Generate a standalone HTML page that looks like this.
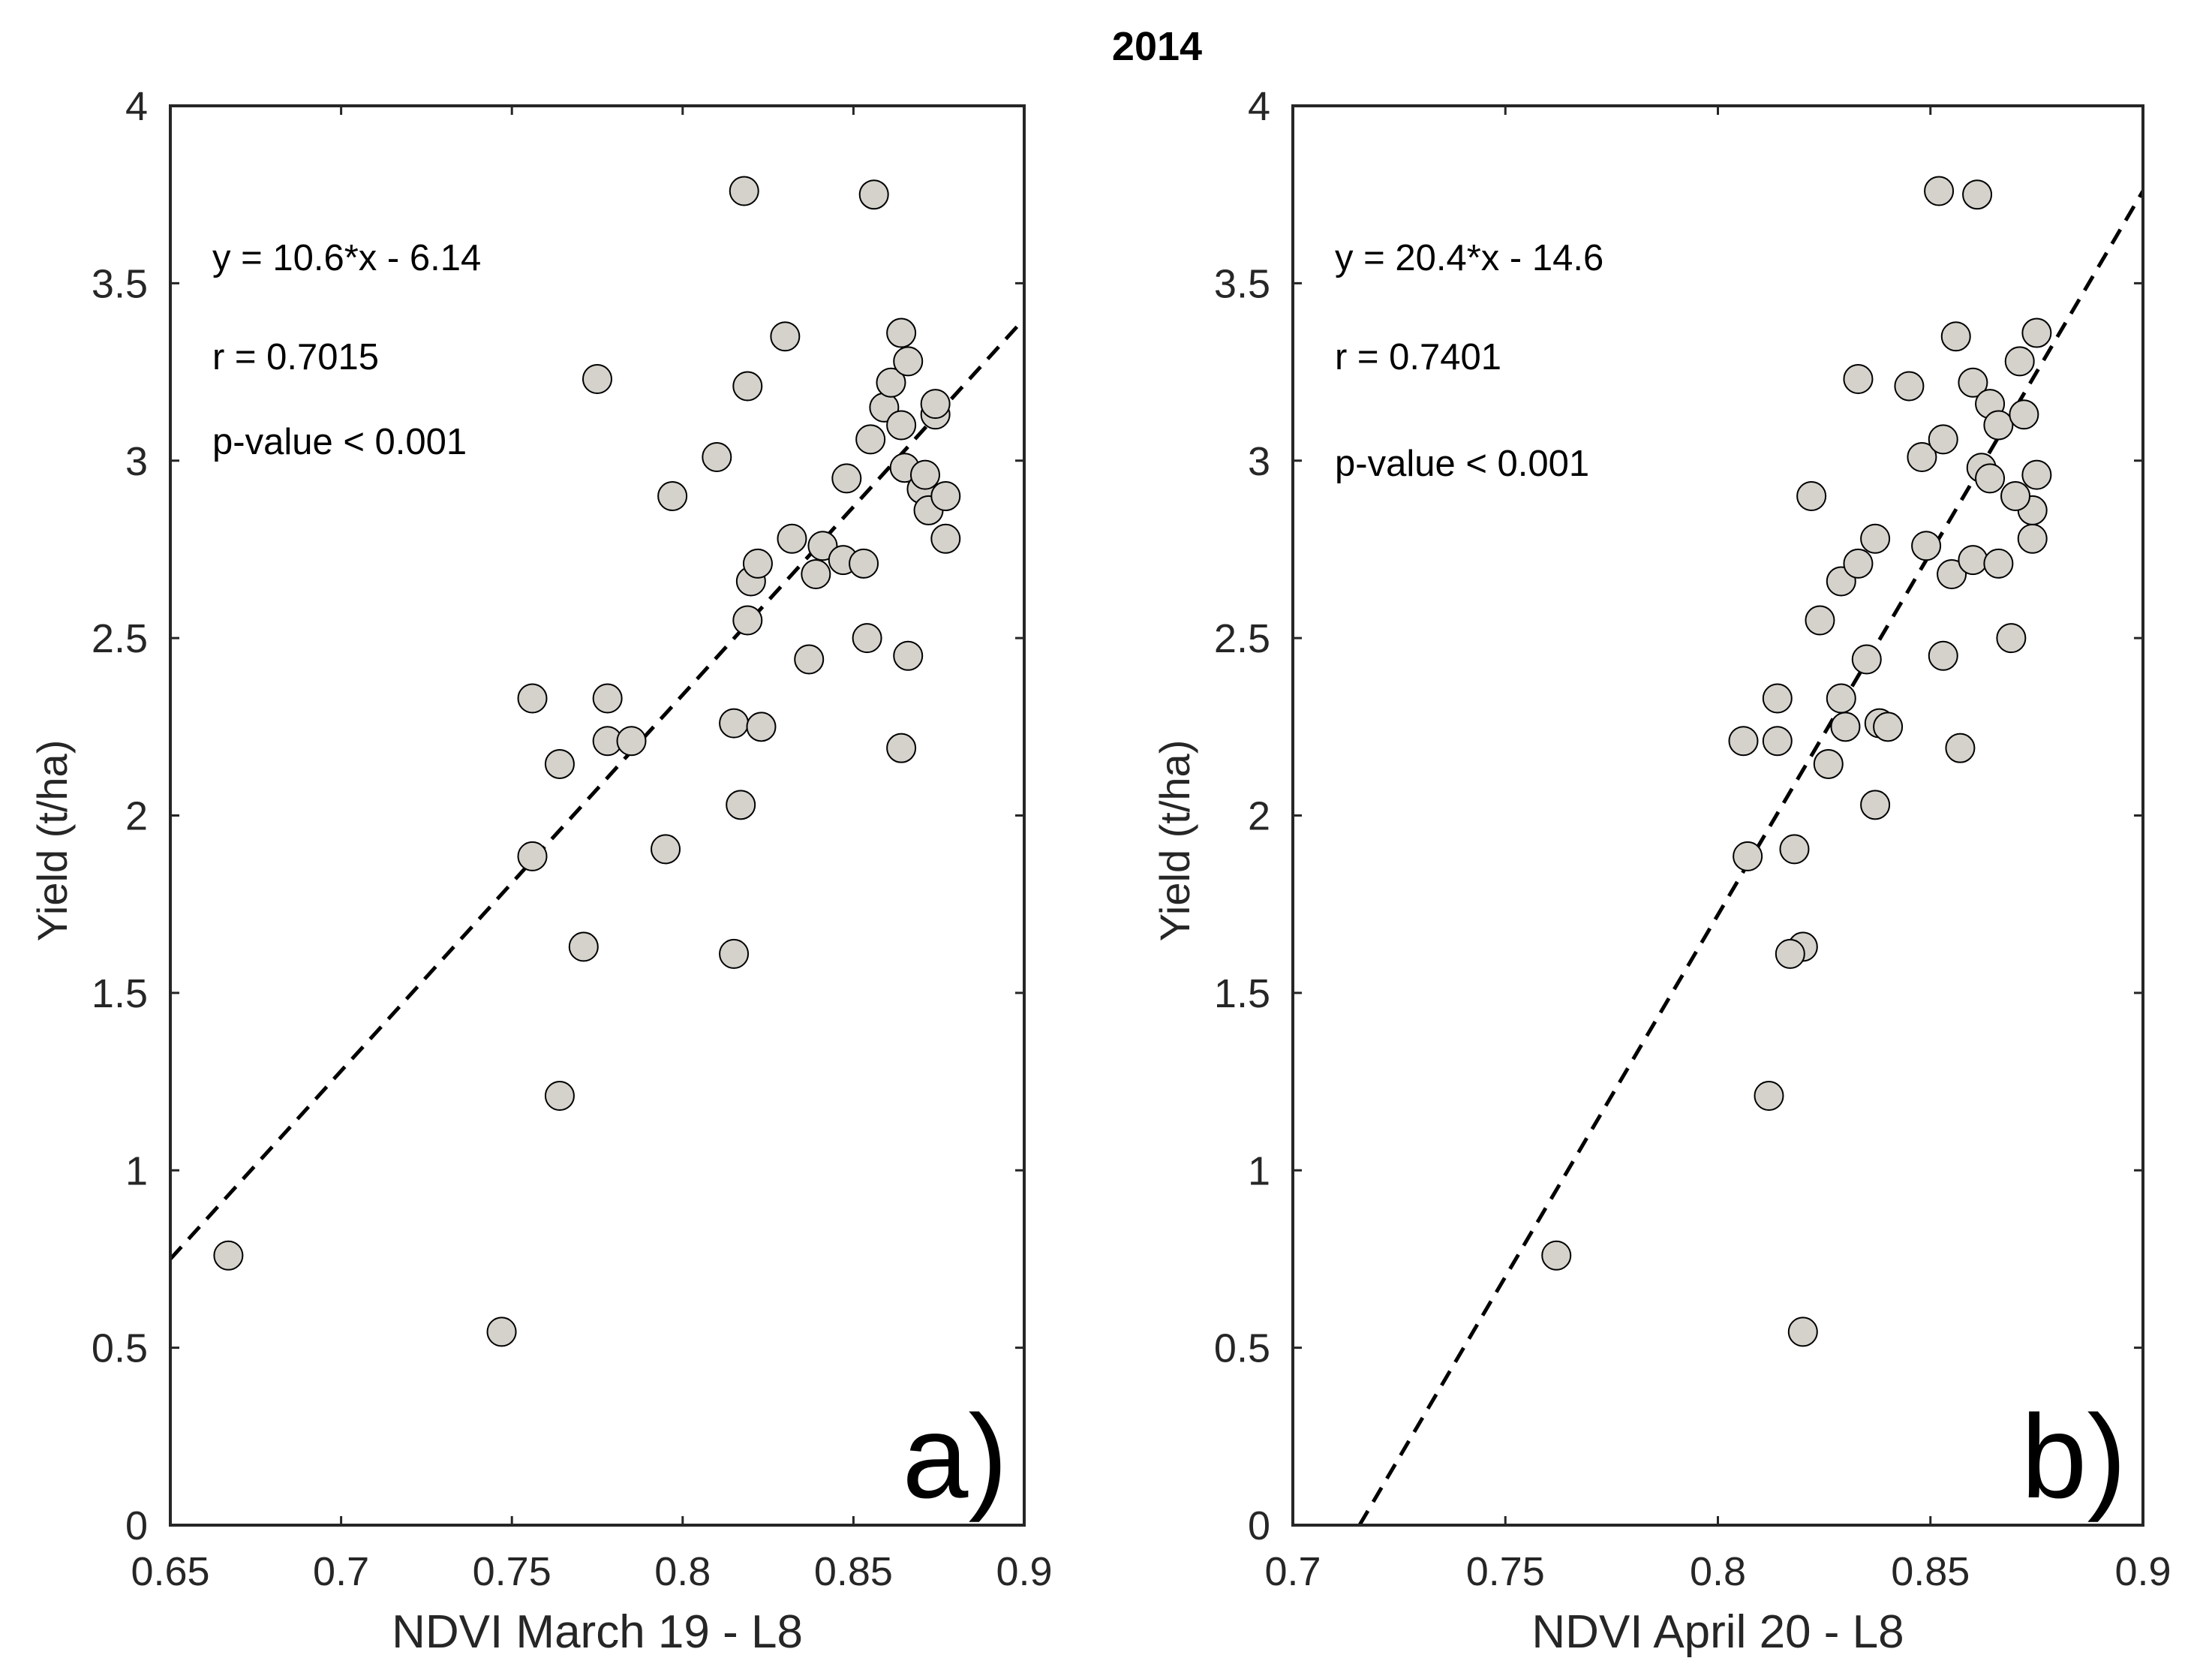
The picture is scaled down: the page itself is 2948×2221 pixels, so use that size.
<!DOCTYPE html>
<html><head><meta charset="utf-8"><style>
html,body{margin:0;padding:0;background:#fff;width:2948px;height:2221px;overflow:hidden}
svg text{font-family:"Liberation Sans",Arial,sans-serif}
</style></head><body>
<svg id="fig" width="2948" height="2221" viewBox="0 0 2948 2221" xmlns="http://www.w3.org/2000/svg">
<rect width="2948" height="2221" fill="#fff"/>
<text x="1542" y="80" font-size="54" font-weight="bold" text-anchor="middle" fill="#000">2014</text>
</svg>
<script>
// Panel a data
const aX = [0.667,0.747,0.764,0.771,0.756,0.756,0.764,0.778,0.778,0.785,0.775,0.795,0.797,0.810,0.818,0.819,0.830,0.815,0.817,0.815,0.823,0.820,0.819,0.822,0.832,0.837,0.839,0.841,0.847,0.848,0.853,0.854,0.856,0.855,0.859,0.861,0.864,0.864,0.866,0.865,0.864,0.866,0.870,0.871,0.874,0.874,0.872,0.877,0.877];
const aY = [0.76,0.545,1.21,1.63,1.885,2.33,2.145,2.33,2.21,2.21,3.23,1.905,2.90,3.01,3.76,3.21,3.35,1.61,2.03,2.26,2.25,2.66,2.55,2.71,2.78,2.44,2.68,2.76,2.72,2.95,2.71,2.50,3.75,3.06,3.15,3.22,3.10,3.36,3.28,2.98,2.19,2.45,2.92,2.96,3.13,3.16,2.86,2.90,2.78];
// Panel b data
const bX = [0.762,0.820,0.812,0.820,0.817,0.807,0.818,0.806,0.814,0.814,0.826,0.829,0.830,0.837,0.838,0.840,0.822,0.824,0.829,0.833,0.835,0.837,0.833,0.845,0.848,0.849,0.852,0.861,0.856,0.853,0.853,0.855,0.857,0.860,0.860,0.862,0.864,0.864,0.866,0.866,0.869,0.871,0.872,0.874,0.874,0.875,0.875,0.870];
const bY = [0.76,0.545,1.21,1.63,1.61,1.885,1.905,2.21,2.21,2.33,2.145,2.33,2.25,2.03,2.26,2.25,2.90,2.55,2.66,2.71,2.44,2.78,3.23,3.21,3.01,2.76,3.76,3.75,3.35,3.06,2.45,2.68,2.19,3.22,2.72,2.98,3.16,2.95,2.71,3.10,2.50,3.28,3.13,2.78,2.86,3.36,2.96,2.90];
const aXTicks = [0.65,0.7,0.75,0.8,0.85,0.9];
const aXTickLabels = ["0.65","0.7","0.75","0.8","0.85","0.9"];
const bXTicks = [0.7,0.75,0.8,0.85,0.9];
const bXTickLabels = ["0.7","0.75","0.8","0.85","0.9"];
const yTicks = [0,0.5,1,1.5,2,2.5,3,3.5,4];
const yTickLabels = ["0","0.5","1","1.5","2","2.5","3","3.5","4"];
const aFit = [10.6,-6.14];
const bFit = [20.4,-14.6];

const NS="http://www.w3.org/2000/svg";
const svg=document.getElementById('fig');
function mk(tag,attrs,parent){const e=document.createElementNS(NS,tag);for(const k in attrs)e.setAttribute(k,attrs[k]);(parent||svg).appendChild(e);return e;}

function panel(p){
  const g=mk('g',{});
  
  
  const L=p.L,R=p.R,T=141,B=2032;
  const sx=v=>L+(v-p.xmin)/(p.xmax-p.xmin)*(R-L);
  const sy=v=>B-(v-0)/(4-0)*(B-T);
  const cp=mk('clipPath',{id:'clip-'+p.name},g);
  mk('rect',{x:L,y:T,width:R-L,height:B-T},cp);
  let x0=p.xmin,x1=p.xmax;
  const f=x=>p.fit[0]*x+p.fit[1];
  if(f(x0)<0)x0=-p.fit[1]/p.fit[0];
  const ln=mk('line',{x1:sx(x0),y1:sy(f(x0)),x2:sx(x1),y2:sy(f(x1)),stroke:'#000','stroke-width':5,'stroke-dasharray':'22 14','clip-path':'url(#clip-'+p.name+')'},g);
  
  
  for(let i=0;i<p.xs.length;i++){
    const c=mk('circle',{cx:sx(p.xs[i]),cy:sy(p.ys[i]),r:19,fill:'#d5d2cc',stroke:'#000','stroke-width':2},g);
    
    
  }
  const bx=mk('rect',{x:L,y:T,width:R-L,height:B-T,fill:'none',stroke:'#262626','stroke-width':4},g);
  
  
  p.xt.forEach((v,i)=>{
    const x=sx(v);
    mk('line',{x1:x,y1:B,x2:x,y2:B-12,stroke:'#262626','stroke-width':3},g);
    mk('line',{x1:x,y1:T,x2:x,y2:T+12,stroke:'#262626','stroke-width':3},g);
    const t=mk('text',{x:x,y:2112,'font-size':54,'text-anchor':'middle',fill:'#262626'},g);
    t.textContent=p.xtl[i];
    
    
  });
  yTicks.forEach((v,i)=>{
    const y=sy(v);
    mk('line',{x1:L,y1:y,x2:L+12,y2:y,stroke:'#262626','stroke-width':3},g);
    mk('line',{x1:R,y1:y,x2:R-12,y2:y,stroke:'#262626','stroke-width':3},g);
    const t=mk('text',{x:L-30,y:y+19,'font-size':54,'text-anchor':'end',fill:'#262626'},g);
    t.textContent=yTickLabels[i];
    
    
  });
  const yl=mk('text',{x:0,y:0,'font-size':56,'text-anchor':'middle',fill:'#262626',transform:'translate('+(L-138)+',1120) rotate(-90)'},g);
  yl.textContent='Yield (t/ha)';
  
  
  const xl=mk('text',{x:(L+R)/2,y:2195,'font-size':62,'text-anchor':'middle',fill:'#262626'},g);
  xl.textContent=p.xlabel;
  
  
  p.ann.forEach((s,i)=>{
    const t=mk('text',{x:L+56,y:p.annY[i],'font-size':49,fill:'#000'},g);
    t.textContent=s;
    
    
  });
  const pl=mk('text',{x:R-22,y:1995,'font-size':158,'text-anchor':'end',fill:'#000'},g);
  pl.textContent=p.label;
  
  
}
panel({name:'panel-a',L:227,R:1365,xmin:0.65,xmax:0.9,xs:aX,ys:aY,xt:aXTicks,xtl:aXTickLabels,fit:aFit,xlabel:'NDVI March 19 - L8',ann:['y = 10.6*x - 6.14','r = 0.7015','p-value < 0.001'],annY:[360,492,605],label:'a)'});
panel({name:'panel-b',L:1723,R:2856,xmin:0.7,xmax:0.9,xs:bX,ys:bY,xt:bXTicks,xtl:bXTickLabels,fit:bFit,xlabel:'NDVI April 20 - L8',ann:['y = 20.4*x - 14.6','r = 0.7401','p-value < 0.001'],annY:[360,492,634],label:'b)'});
</script>
</body></html>
